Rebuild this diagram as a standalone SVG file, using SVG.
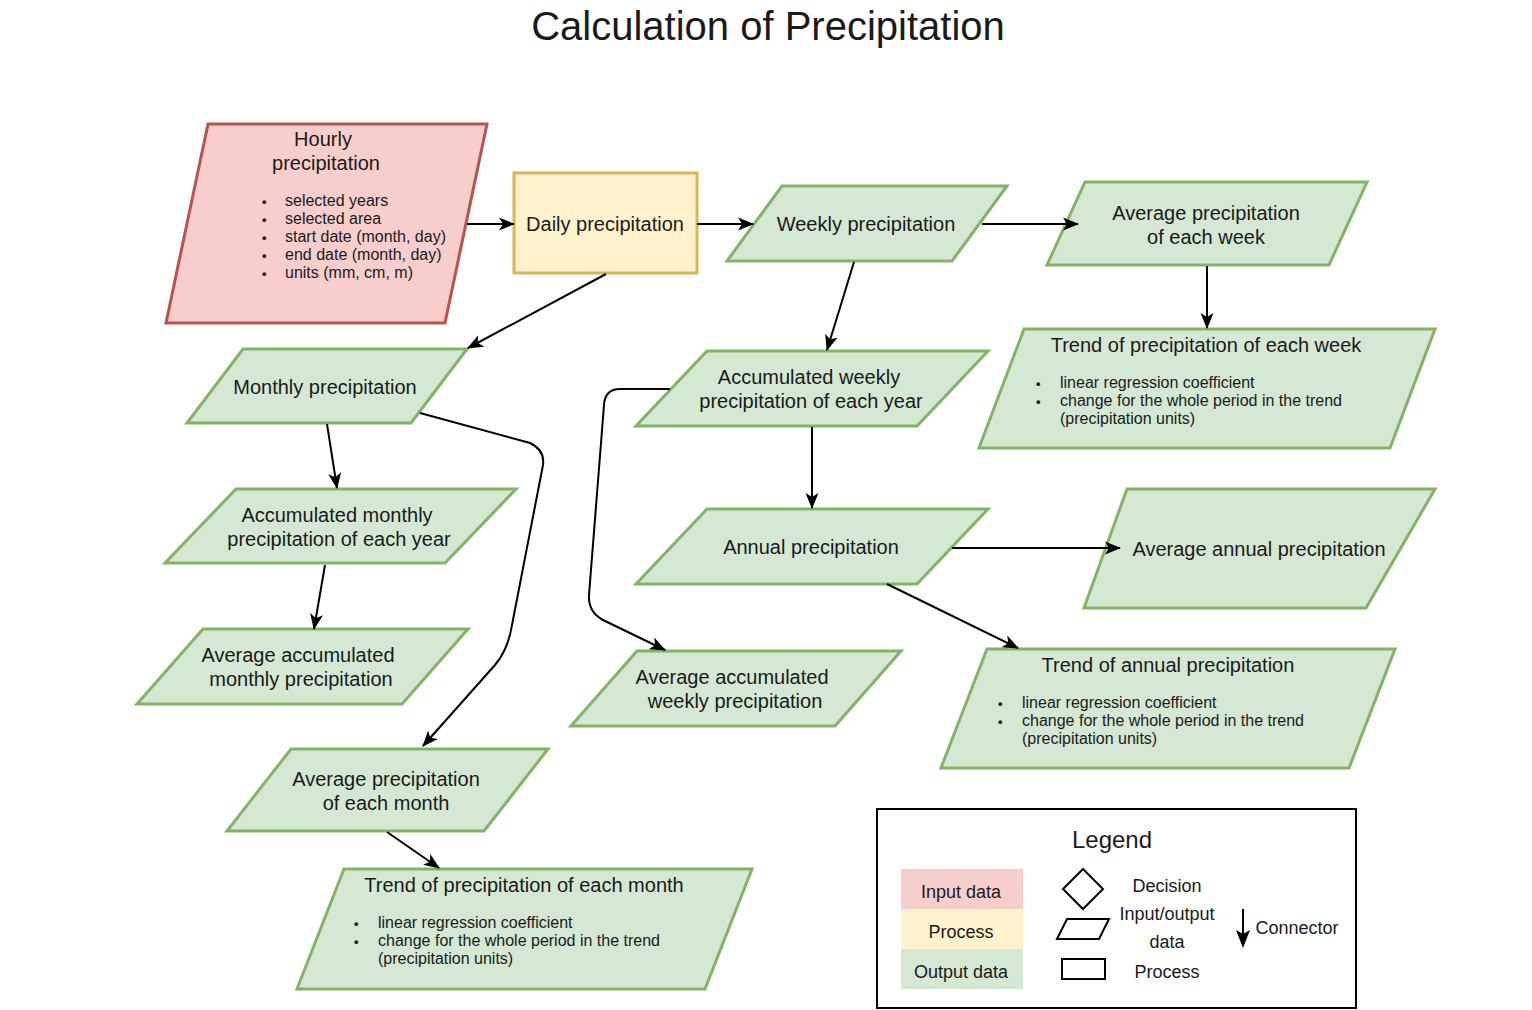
<svg xmlns="http://www.w3.org/2000/svg" width="1532" height="1010" viewBox="0 0 1532 1010">
<defs>
<marker id="arr" markerWidth="18" markerHeight="14" refX="15" refY="7" orient="auto" markerUnits="userSpaceOnUse">
<path d="M0,0.5 L16,7 L0,13.5 L4,7 Z" fill="#000"/>
</marker>
<style>
text{font-family:"Liberation Sans",Arial,Helvetica,sans-serif;fill:#1a1a1a}
.t{font-size:20px;text-anchor:middle}
.b{font-size:16px}
.d{font-size:13px;font-weight:bold}
.out{fill:#d5e8d4;stroke:#82b366;stroke-width:3}
.in{fill:#f8cecc;stroke:#b85450;stroke-width:3}
.proc{fill:#fff2cc;stroke:#d6b656;stroke-width:3}
.c{fill:none;stroke:#000;stroke-width:2;marker-end:url(#arr)}
.lg{font-size:18px;text-anchor:middle}
</style>
</defs>
<rect width="1532" height="1010" fill="#fff"/>
<text x="768" y="40" style="font-size:40px;text-anchor:middle">Calculation of Precipitation</text>

<g id="hourly">
<polygon class="in" points="208,124 487,124 445,323 166,323"/>
<text class="t" x="323" y="146">Hourly</text>
<text class="t" x="326" y="170">precipitation</text>
<text class="d" x="262" y="206">•</text><text class="b" x="285" y="206">selected years</text>
<text class="d" x="262" y="224">•</text><text class="b" x="285" y="224">selected area</text>
<text class="d" x="262" y="242">•</text><text class="b" x="285" y="242">start date (month, day)</text>
<text class="d" x="262" y="260">•</text><text class="b" x="285" y="260">end date (month, day)</text>
<text class="d" x="262" y="278">•</text><text class="b" x="285" y="278">units (mm, cm, m)</text>
</g>

<g id="daily">
<rect class="proc" x="514" y="173" width="183" height="100"/>
<text class="t" x="605" y="231">Daily precipitation</text>
</g>

<g id="weekly">
<polygon class="out" points="782,186 1007,186 952,261 727,261"/>
<text class="t" x="866" y="231">Weekly precipitation</text>
</g>

<g id="avg-week">
<polygon class="out" points="1085,182 1367,182 1329,265 1047,265"/>
<text class="t" x="1206" y="220">Average precipitation</text>
<text class="t" x="1206" y="244">of each week</text>
</g>

<g id="trend-week">
<polygon class="out" points="1024,329 1435,329 1390,448 979,448"/>
<text class="t" x="1206" y="352">Trend of precipitation of each week</text>
<text class="d" x="1036" y="388">•</text><text class="b" x="1060" y="388">linear regression coefficient</text>
<text class="d" x="1036" y="406">•</text><text class="b" x="1060" y="406">change for the whole period in the trend</text>
<text class="b" x="1060" y="424">(precipitation units)</text>
</g>

<g id="monthly">
<polygon class="out" points="243,349 467,349 411,423 187,423"/>
<text class="t" x="325" y="394">Monthly precipitation</text>
</g>

<g id="acc-weekly">
<polygon class="out" points="707,351 988,351 917,426 636,426"/>
<text class="t" x="809" y="384">Accumulated weekly</text>
<text class="t" x="811" y="408">precipitation of each year</text>
</g>

<g id="acc-monthly">
<polygon class="out" points="236,489 516,489 445,563 165,563"/>
<text class="t" x="337" y="522">Accumulated monthly</text>
<text class="t" x="339" y="546">precipitation of each year</text>
</g>

<g id="annual">
<polygon class="out" points="707,509 988,509 917,584 636,584"/>
<text class="t" x="811" y="554">Annual precipitation</text>
</g>

<g id="avg-annual">
<polygon class="out" points="1127,489 1435,489 1366,608 1084,608"/>
<text class="t" x="1259" y="556">Average annual precipitation</text>
</g>

<g id="avg-acc-monthly">
<polygon class="out" points="203,629 468,629 402,704 137,704"/>
<text class="t" x="298" y="662">Average accumulated</text>
<text class="t" x="301" y="686">monthly precipitation</text>
</g>

<g id="avg-acc-weekly">
<polygon class="out" points="637,651 901,651 835,726 571,726"/>
<text class="t" x="732" y="684">Average accumulated</text>
<text class="t" x="735" y="708">weekly precipitation</text>
</g>

<g id="trend-annual">
<polygon class="out" points="987,649 1395,649 1349,768 941,768"/>
<text class="t" x="1168" y="672">Trend of annual precipitation</text>
<text class="d" x="998" y="708">•</text><text class="b" x="1022" y="708">linear regression coefficient</text>
<text class="d" x="998" y="726">•</text><text class="b" x="1022" y="726">change for the whole period in the trend</text>
<text class="b" x="1022" y="744">(precipitation units)</text>
</g>

<g id="avg-month">
<polygon class="out" points="291,749 548,749 484,831 227,831"/>
<text class="t" x="386" y="786">Average precipitation</text>
<text class="t" x="386" y="810">of each month</text>
</g>

<g id="trend-month">
<polygon class="out" points="344,869 752,869 705,989 297,989"/>
<text class="t" x="524" y="892">Trend of precipitation of each month</text>
<text class="d" x="354" y="928">•</text><text class="b" x="378" y="928">linear regression coefficient</text>
<text class="d" x="354" y="946">•</text><text class="b" x="378" y="946">change for the whole period in the trend</text>
<text class="b" x="378" y="964">(precipitation units)</text>
</g>

<g id="connectors">
<path class="c" d="M467,224 L514,224"/>
<path class="c" d="M697,224 L753,224"/>
<path class="c" d="M982,224 L1078,224"/>
<path class="c" d="M1207,266 L1207,328"/>
<path class="c" d="M606,274 L468,348"/>
<path class="c" d="M854,262 L827,350"/>
<path class="c" d="M812,427 L812,508"/>
<path class="c" d="M952,548 L1120,548"/>
<path class="c" d="M887,584 L1018,648"/>
<path class="c" d="M670,389 L620,389 Q605,389 604,405 L589,595 Q588,612 603,620 L665,650"/>
<path class="c" d="M327,424 L337,488"/>
<path class="c" d="M325,565 L314,629"/>
<path class="c" d="M420,413 L530,443 Q545,450 543,465 L512,625 Q508,650 495,665 L423,746"/>
<path class="c" d="M387,832 L439,868"/>
</g>

<g id="legend">
<rect x="877" y="809" width="479" height="199" fill="#fff" stroke="#000" stroke-width="2"/>
<text x="1112" y="848" style="font-size:24px;text-anchor:middle">Legend</text>
<rect x="901" y="869" width="122" height="40" fill="#f8cecc"/>
<rect x="901" y="909" width="122" height="40" fill="#fff2cc"/>
<rect x="901" y="949" width="122" height="40" fill="#d5e8d4"/>
<text class="lg" x="961" y="898">Input data</text>
<text class="lg" x="961" y="938">Process</text>
<text class="lg" x="961" y="978">Output data</text>
<polygon points="1083,869 1103,889 1083,909 1063,889" fill="none" stroke="#000" stroke-width="2"/>
<polygon points="1067,919 1109,919 1099,939 1057,939" fill="none" stroke="#000" stroke-width="2"/>
<rect x="1062" y="959" width="43" height="20" fill="none" stroke="#000" stroke-width="2"/>
<text class="lg" x="1167" y="892">Decision</text>
<text class="lg" x="1167" y="920">Input/output</text>
<text class="lg" x="1167" y="948">data</text>
<text class="lg" x="1167" y="978">Process</text>
<path d="M1243,909 L1243,936" stroke="#000" stroke-width="2"/>
<path d="M1236,930 L1243,948 L1250,930 L1243,934 Z" fill="#000"/>
<text class="lg" x="1297" y="934">Connector</text>
</g>
</svg>
